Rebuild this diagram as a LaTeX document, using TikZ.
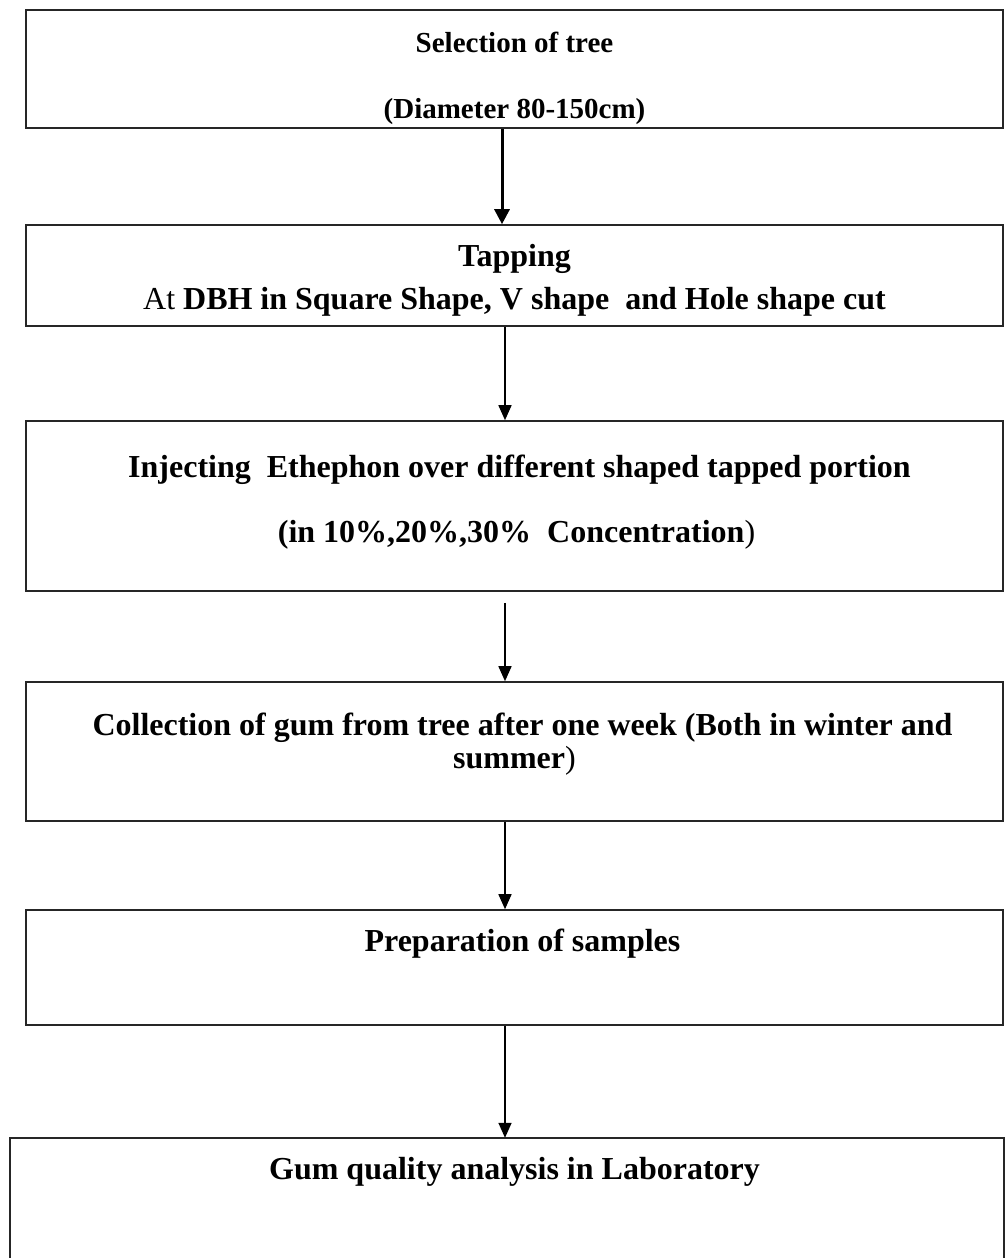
\documentclass[tikz,border=0pt]{standalone}
\usepackage{fontspec}
\setmainfont{Liberation Serif}
\usetikzlibrary{arrows.meta}
\begin{document}
\begin{tikzpicture}[x=1pt,y=-1pt,
  box/.style={draw=black!85, line width=1.6pt, rectangle, inner sep=0pt, minimum width=977pt},
  txt/.style={anchor=base, inner sep=0pt, font=\fontsize{32}{38}\selectfont\bfseries},
  txts/.style={anchor=base, inner sep=0pt, font=\fontsize{29}{34}\selectfont\bfseries},
  arr/.style={-{Triangle[length=15pt,width=13pt]}, line width=1.5pt},
  arrthick/.style={-{Triangle[length=15pt,width=15pt]}, line width=3pt},
]
\useasboundingbox (0,0) rectangle (1006,1258);

% boxes
\node[box, minimum height=118pt] (b1) at (514.5,69) {};
\node[box, minimum height=101pt] (b2) at (514.5,275.5) {};
\node[box, minimum height=170pt] (b3) at (514.5,506) {};
\node[box, minimum height=139pt] (b4) at (514.5,751.5) {};
\node[box, minimum height=115pt] (b5) at (514.5,967.5) {};
\node[rectangle, inner sep=0pt, minimum width=994pt, minimum height=120pt] (b6) at (507,1198) {};
\draw[draw=black!85, line width=1.6pt] (b6.south west) -- (b6.north west) -- (b6.north east) -- (b6.south east);

% texts
\node[txts] (t1a) at (514.5,52) {Selection of tree};
\node[txts] (t1b) at (514.5,118) {(Diameter 80-150cm)};
\node[txt] (t2a) at (514.5,266) {Tapping};
\node[txt] (t2b) at (514.5,309) {{\mdseries At} DBH in Square Shape, V shape\ \ and Hole shape cut};
\node[txt] (t3a) at (519.5,477) {Injecting\ \ Ethephon over different shaped tapped portion};
\node[txt] (t3b) at (516.5,542) {(in 10\%,20\%,30\%\ \ Concentration{\mdseries )}};
\node[txt] (t4a) at (522.5,735) {Collection of gum from tree after one week (Both in winter and};
\node[txt] (t4b) at (514.5,768) {summer{\mdseries )}};
\node[txt] (t5a) at (522.5,951) {Preparation of samples};
\node[txt] (t6a) at (514.5,1179) {Gum quality analysis in Laboratory};

% connectors
\draw[arrthick] ([xshift=-12.5pt]b1.south) -- ([xshift=-12.5pt]b2.north);
\draw[arr] ([xshift=-9.5pt]b2.south) -- ([xshift=-9.5pt]b3.north);
\draw[arr] ([xshift=-9.5pt,yshift=-11pt]b3.south) -- ([xshift=-9.5pt]b4.north);
\draw[arr] ([xshift=-9.5pt]b4.south) -- ([xshift=-9.5pt]b5.north);
\draw[arr] ([xshift=-9.5pt]b5.south) -- ([xshift=-2pt]b6.north);
\end{tikzpicture}
\end{document}
